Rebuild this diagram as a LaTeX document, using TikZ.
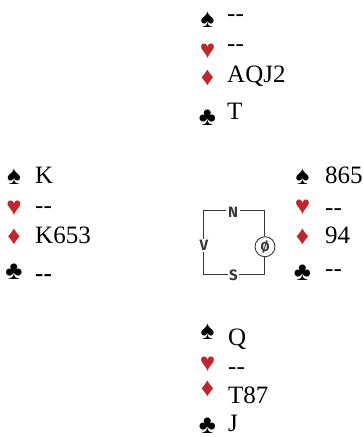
\documentclass[tikz,border=0pt]{standalone}
\usepackage{fontspec}
\setmainfont{Liberation Serif}
\newfontfamily\suitfont{Liberation Serif}
\newfontfamily\compfont{Fira Sans}
\definecolor{suitred}{RGB}{192,39,45}
\definecolor{boxgray}{RGB}{55,55,55}
\begin{document}
\begin{tikzpicture}[x=1pt,y=-1pt,
  card/.style={anchor=base west,inner sep=0pt,font=\fontsize{25}{25}\selectfont},
  suit/.style={anchor=center,inner sep=0pt,font=\suitfont\fontsize{26}{26}\selectfont},
  blk/.style={suit,text=black},
  rd/.style={suit,text=suitred},
  dir/.style={inner sep=1.5pt,font=\compfont\bfseries\fontsize{15}{15}\selectfont,text=boxgray},
  boxline/.style={draw=boxgray,line width=0.9pt}]
\useasboundingbox (0,0) rectangle (363,437);
% North
\node[blk] (nS) at (207.5,19.5) {♠};
\node[rd]  (nH) at (207.5,51)   {♥};
\node[rd]  (nD) at (207.5,78)   {♦};
\node[blk] (nC) at (207.5,118)  {♣};
\node[card] (nSt) at (227,21)  {-{}-};
\node[card] (nHt) at (227,51)  {-{}-};
\node[card] (nDt) at (227,82)  {AQJ2};
\node[card] (nCt) at (227,119.5) {T};
% West
\node[blk] (wS) at (14,176.5) {♠};
\node[rd]  (wH) at (14,208)   {♥};
\node[rd]  (wD) at (14,237)   {♦};
\node[blk] (wC) at (14,272)   {♣};
\node[card] (wSt) at (35,183.3) {K};
\node[card] (wHt) at (35,213)   {-{}-};
\node[card] (wDt) at (35,243.3) {K653};
\node[card,font=\fontsize{25}{25}\selectfont\bfseries] (wCt) at (35,281) {-{}-};
% East
\node[blk] (eS) at (302.5,176.5) {♠};
\node[rd]  (eH) at (302.5,207.5) {♥};
\node[rd]  (eD) at (302.5,236.5) {♦};
\node[blk] (eC) at (302.5,273)   {♣};
\node[card] (eSt) at (325,183.3) {865};
\node[card] (eHt) at (325,215)   {-{}-};
\node[card] (eDt) at (325,243.3) {94};
\node[card] (eCt) at (325,276)   {-{}-};
% South
\node[blk] (sS) at (207.5,331.5) {♠};
\node[rd]  (sH) at (207.5,364.5) {♥};
\node[rd]  (sD) at (207.5,388.5) {♦};
\node[blk] (sC) at (207.5,425.5) {♣};
\node[card] (sSt) at (228,345)   {Q};
\node[card] (sHt) at (228,374)   {-{}-};
\node[card] (sDt) at (228,403.3) {T87};
\node[card] (sCt) at (228,431.5) {J};
% Compass
\node[dir] (N) at (233,212.2) {N};
\node[dir] (V) at (204,245.5) {V};
\node[dir] (S) at (233.5,275) {S};
\node[dir,draw=boxgray,line width=0.9pt,circle,minimum size=20pt,inner sep=0pt,font=\compfont\bfseries\fontsize{13}{13}\selectfont] (O) at (265,246.7) {Ø};
\coordinate (tl) at (203.3,210);
\coordinate (tr) at (264.3,210);
\coordinate (bl) at (203.3,274.3);
\coordinate (br) at (264.3,274.3);
\draw[boxline] (N.west |- tl) -- (tl) -- (tl |- V.north);
\draw[boxline] (V.south -| bl) -- (bl) -- (S.west |- bl);
\draw[boxline] (S.east |- br) -- (br) -- (br |- O.south);
\draw[boxline] (O.north -| tr) -- (tr) -- (N.east |- tr);
\end{tikzpicture}
\end{document}
